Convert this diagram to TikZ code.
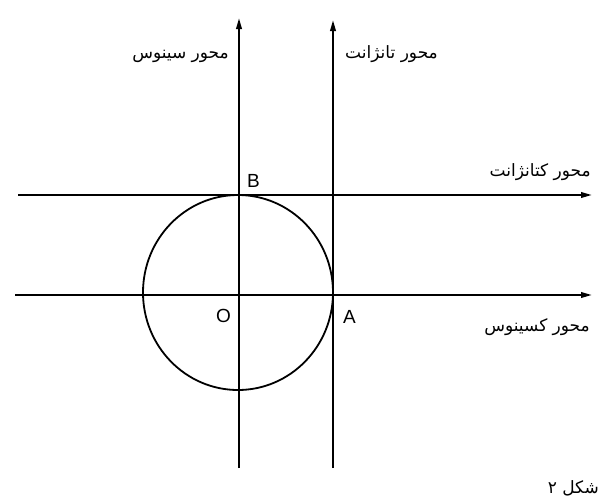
\documentclass[tikz,border=0pt]{standalone}
\usepackage{fontspec}
\setmainfont{Liberation Sans}
\newfontfamily\arabicfont[Script=Arabic]{DejaVu Sans}
\TeXXeTstate=1
\usetikzlibrary{arrows.meta,shapes.geometric}
\begin{document}
\begin{tikzpicture}[x=1pt,y=-1pt,
  axis/.style={line width=2pt,-{Triangle[length=11pt,width=5.5pt]}},
  arlabel/.style={font=\arabicfont\fontsize{17}{19}\selectfont,inner sep=0pt},
  ptlabel/.style={font=\fontsize{19}{21}\selectfont,inner sep=0pt}]
\useasboundingbox (0,0) rectangle (602,501);
% coordinates
\coordinate (O) at (239,295);
\coordinate (C) at (238,292.5);
\coordinate (sinBot) at (239,468);
\coordinate (sinTop) at (239,18);
\coordinate (tanBot) at (333,468);
\coordinate (tanTop) at (333,20);
\coordinate (cotL) at (18,195);
\coordinate (cotR) at (592,195);
\coordinate (cosL) at (15,295);
\coordinate (cosR) at (592,295);
% circle
\node[draw,ellipse,line width=1.8pt,minimum width=190pt,minimum height=195pt,inner sep=0pt] (circ) at (C) {};
% axes
\draw[axis] (sinBot) -- (sinTop);
\draw[axis] (tanBot) -- (tanTop);
\draw[axis] (cotL) -- (cotR);
\draw[axis] (cosL) -- (cosR);
% point labels
\node[ptlabel,anchor=base west] (lB) at (247,187) {B};
\node[ptlabel,anchor=base west] (lO) at (216,322) {O};
\node[ptlabel,anchor=base west] (lA) at (343,323) {A};
% axis labels
\node[arlabel,anchor=base east] (lsin) at (229,58) {\beginR محور سینوس\endR};
\node[arlabel,anchor=base west] (ltan) at (345,58) {\beginR محور تانژانت\endR};
\node[arlabel,anchor=base east] (lcot) at (591,176) {\beginR محور کتانژانت\endR};
\node[arlabel,anchor=base east] (lcos) at (590,331) {\beginR محور کسینوس\endR};
% caption
\node[arlabel,anchor=base east] (cap) at (599,493) {\beginR شکل ۲\endR};
\end{tikzpicture}
\end{document}
